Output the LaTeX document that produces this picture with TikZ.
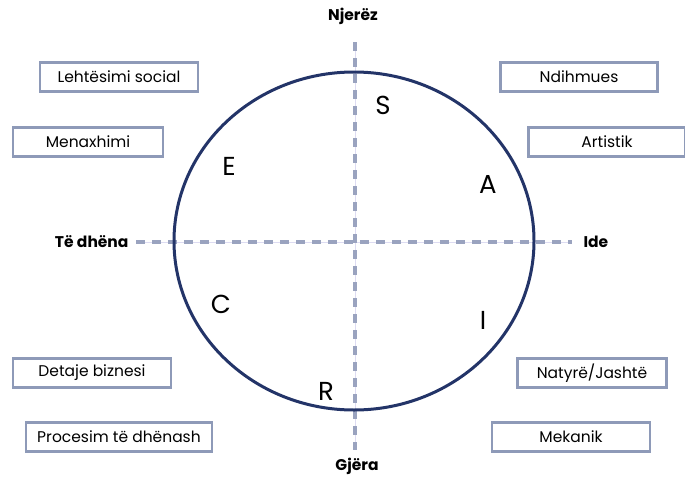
\documentclass[tikz,border=0pt]{standalone}
\usepackage{fontspec}
\setmainfont{Poppins}
\usetikzlibrary{positioning}

\definecolor{ringblue}{HTML}{233468}
\definecolor{boxgray}{HTML}{8E9AB8}
\definecolor{dashgray}{HTML}{9AA3BF}
\definecolor{linelilac}{HTML}{DEDCF2}

\tikzset{
	trait/.style={draw=boxgray, line width=2.6pt, fill=white, minimum height=29pt, inner sep=2pt, font=\fontsize{15.5}{18}\selectfont},
	axislabel/.style={font=\fontsize{15.5}{18}\selectfont\bfseries},
	letter/.style={font=\fontsize{26}{30}\selectfont},
	axisline/.style={dashgray, line width=3.2pt, dash pattern=on 9pt off 7pt},
}

\begin{document}
\begin{tikzpicture}[x=1pt,y=-1pt]

\useasboundingbox (0,0) rectangle (685,479);

%Coordinates
\coordinate (O) at (354,241);
\coordinate (top) at (355,42);
\coordinate (bottom) at (355,450);
\coordinate (left) at (136,242);
\coordinate (right) at (572,242);

%Axis
\draw[linelilac, thin] (top) -- (bottom);
\draw[linelilac, thin] (left) -- (right);
\draw[axisline] (top) -- (bottom);
\draw[axisline] (left) -- (right);

%Circle
\draw[ringblue, line width=3pt] (O) ellipse [x radius=180, y radius=169];

%Axis labels
\node[axislabel] (people) at (353,16) {Njerëz};
\node[axislabel] (things) at (357,466) {Gjëra};
\node[axislabel, left=4pt of left] (data) {Të dhëna};
\node[axislabel, right=8pt of right] (ideas) {Ide};

%Letters
\foreach \name/\x/\y in {S/383/105, E/229/166, A/488/184, C/221/304, I/483/320, R/326/391}
{
	\node[letter] (\name) at (\x,\y) {\name};
}

% Boxes
\node[trait, minimum width=158pt] (social) at (119,77) {Lehtësimi social};
\node[trait, minimum width=150pt] (manage) at (88,142) {Menaxhimi};
\node[trait, minimum width=158pt] (business) at (92,373) {Detaje biznesi};
\node[trait, minimum width=186pt] (process) at (119,437) {Procesim të dhënash};

\node[trait, minimum width=157pt] (help) at (579,77) {Ndihmues};
\node[trait, minimum width=157pt] (art) at (607,142) {Artistik};
\node[trait, minimum width=149pt] (nature) at (592,373) {Natyrë/Jashtë};
\node[trait, minimum width=158pt] (mech) at (571,437) {Mekanik};

\end{tikzpicture}
\end{document}
